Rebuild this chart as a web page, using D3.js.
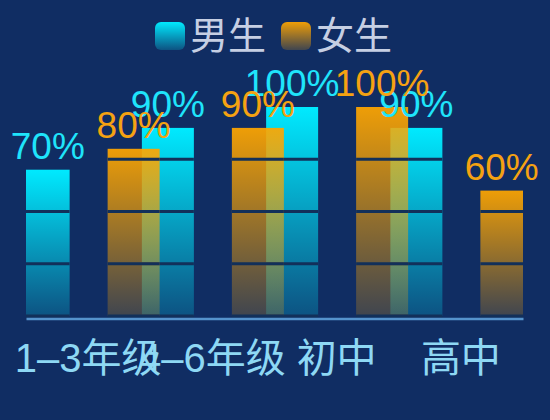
<!DOCTYPE html>
<html>
<head>
<meta charset="utf-8">
<script src="https://cdn.jsdelivr.net/npm/d3@7/dist/d3.min.js"></script>
<style>
  html, body { margin: 0; padding: 0; background: #102d63; }
  svg { display: block; }
  text { font-family: "Liberation Sans", "Noto Sans CJK SC", sans-serif; }
</style>
</head>
<body>
<svg id="chart" width="550" height="420"></svg>
<script>
const categories = ["1–3年级", "4–6年级", "初中", "高中"];
const seriesNames = ["男生", "女生"];
const boys = [70, 90, 100, 90];
const girls = [80, 90, 100, 60];
const segmentTicks = [0, 25, 50, 75];

const W = 550, H = 420;
const grid = { left: 26, right: 523, top: 107, bottom: 316 };
const svg = d3.select("#chart");
svg.append("rect").attr("width", W).attr("height", H).attr("fill", "#102d63");

const defs = svg.append("defs");
function grad(id, color, a0, a1) {
  const g = defs.append("linearGradient").attr("id", id)
    .attr("x1", 0).attr("y1", 0).attr("x2", 0).attr("y2", 1);
  g.append("stop").attr("offset", "0%").attr("stop-color", color).attr("stop-opacity", a0);
  g.append("stop").attr("offset", "100%").attr("stop-color", color).attr("stop-opacity", a1);
}
grad("gBoy", "rgb(0,234,255)", 1, 0.2);
grad("gGirl", "rgb(255,166,0)", 0.93, 0.2);
defs.append("clipPath").attr("id", "gridClip").append("rect")
  .attr("x", grid.left).attr("y", 0)
  .attr("width", grid.right - grid.left).attr("height", H);

const x = d3.scaleBand().domain(categories).range([grid.left, grid.right]).padding(0);
const y = d3.scaleLinear().domain([0, 100]).range([grid.bottom, grid.top]);

const barW = 52;
const series = [
  { name: seriesNames[0], values: boys, offset: -44.5, fill: "url(#gBoy)", label: "#1fe4fb", swatch: "gBoy" },
  { name: seriesNames[1], values: girls, offset: 45.5, fill: "url(#gGirl)", label: "#f5a212", swatch: "gGirl" }
];

const barsG = svg.append("g").attr("clip-path", "url(#gridClip)");
series.forEach(s => {
  const data = categories.map((c, i) => ({ c, v: s.values[i] }));
  const g = barsG.append("g");
  data.forEach(d => {
    const cx = x(d.c) + x.bandwidth() / 2 + s.offset;
    const x0 = cx - barW / 2;
    g.append("rect")
      .attr("x", x0).attr("y", y(d.v))
      .attr("width", barW).attr("height", y(0) - y(d.v))
      .attr("fill", s.fill);
    segmentTicks.filter(t => t < d.v).forEach(t => {
      g.append("line")
        .attr("x1", x0).attr("x2", x0 + barW)
        .attr("y1", y(t)).attr("y2", y(t))
        .attr("stroke", "#12305a").attr("stroke-width", 3);
    });
  });
});

// axis line
const xAxis = d3.axisBottom(x).tickSize(0).tickPadding(0).tickFormat("");
const axG = svg.append("g").attr("transform", `translate(0,${grid.bottom + 2.5})`).call(xAxis);
axG.select(".domain").attr("stroke", "#5593cc").attr("stroke-width", 2.5);

// category labels
svg.append("g").selectAll("text").data(categories).join("text")
  .attr("x", d => x(d) + x.bandwidth() / 2)
  .attr("y", 358)
  .attr("text-anchor", "middle")
  .attr("dominant-baseline", "central")
  .attr("font-size", 40)
  .attr("fill", "#8ed8f4")
  .text(d => d);

// value labels
series.forEach(s => {
  categories.forEach((c, i) => {
    const cx = x(c) + x.bandwidth() / 2 + s.offset;
    const l = Math.max(cx - barW / 2, grid.left);
    const r = Math.min(cx + barW / 2, grid.right);
    svg.append("text")
      .attr("x", (l + r) / 2)
      .attr("y", y(s.values[i]) - 11)
      .attr("text-anchor", "middle")
      .attr("font-size", 37)
      .attr("fill", s.label)
      .text(s.values[i] + "%");
  });
});

// legend
const legendX = [155, 281];
series.forEach((s, i) => {
  const lg = svg.append("g").attr("transform", `translate(${legendX[i]},22)`);
  lg.append("rect").attr("width", 30).attr("height", 28).attr("rx", 6)
    .attr("fill", `url(#${s.swatch})`);
  lg.append("text").attr("x", 35).attr("y", 14)
    .attr("dominant-baseline", "central")
    .attr("font-size", 38).attr("fill", "#c6cfe3")
    .text(s.name);
});
</script>
</body>
</html>
